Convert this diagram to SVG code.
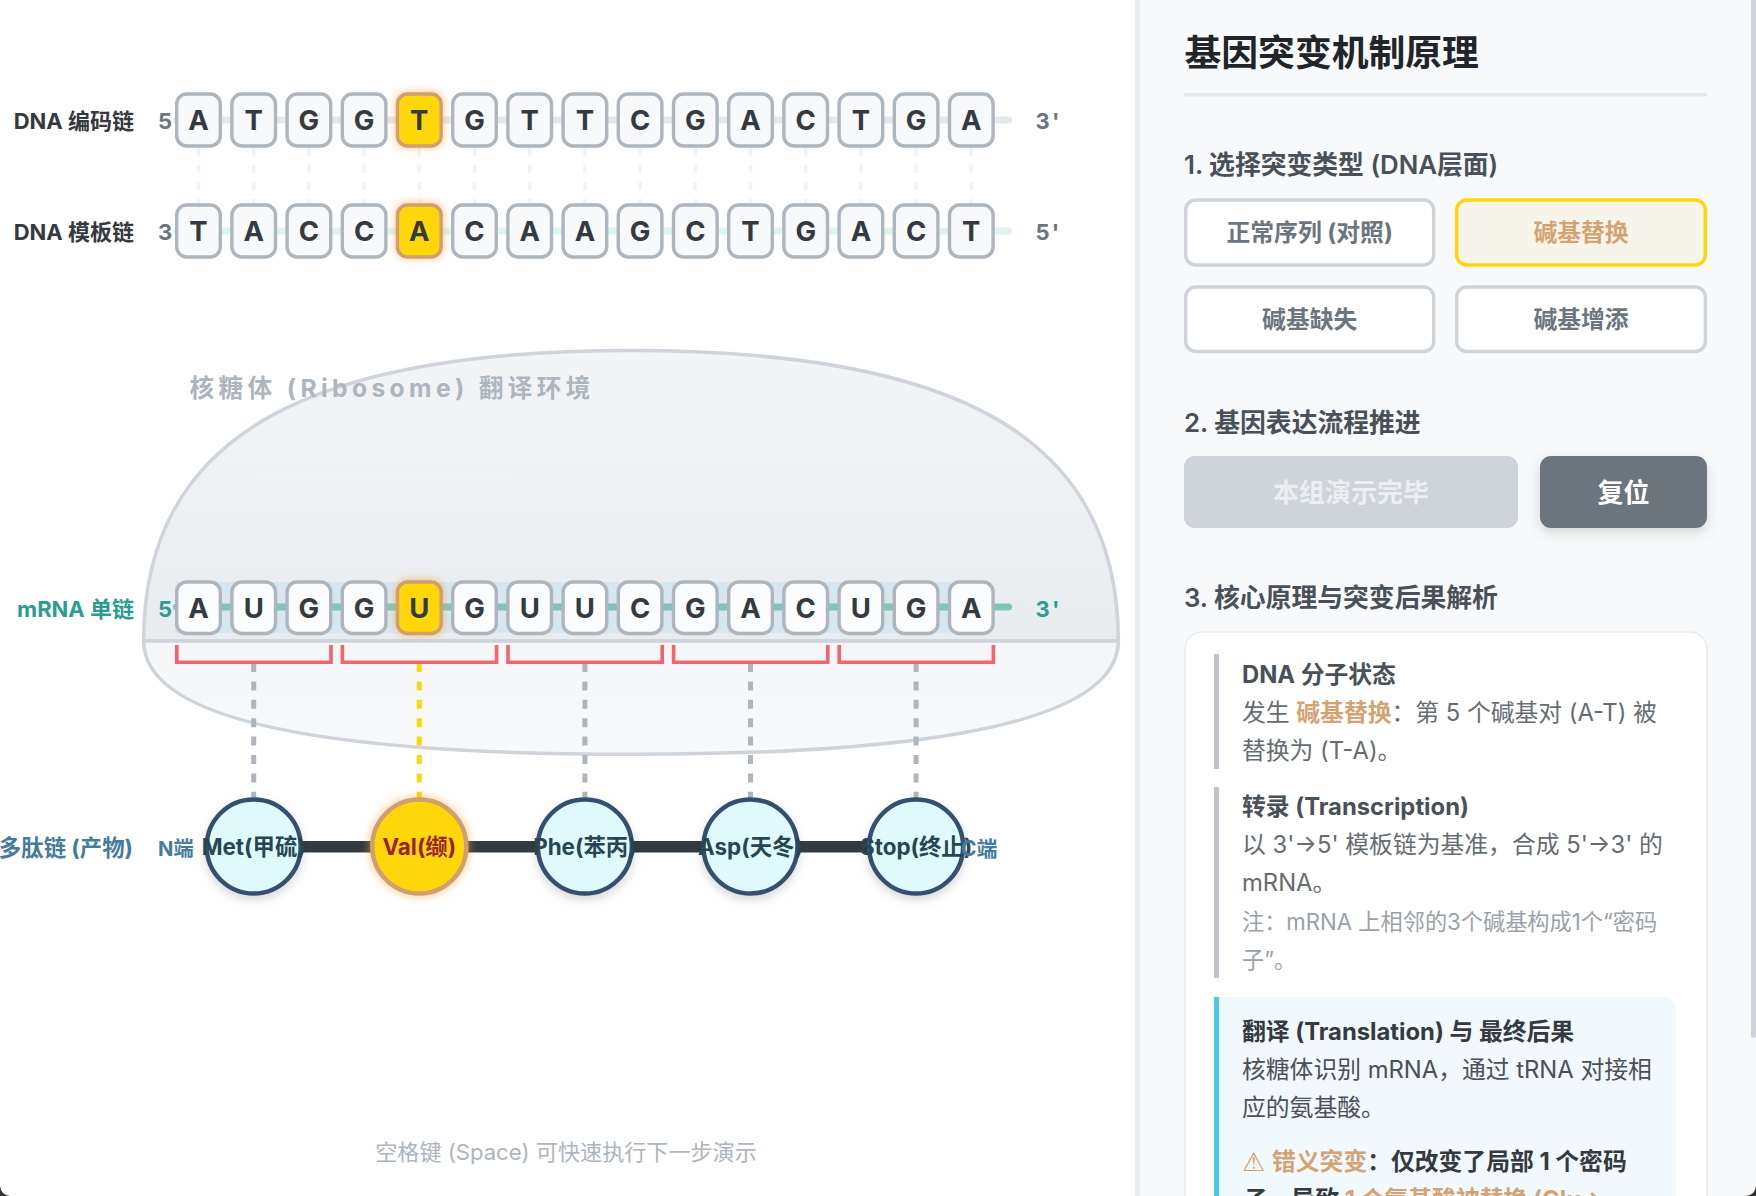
<svg xmlns="http://www.w3.org/2000/svg" width="1756" height="1196" viewBox="0 0 1756 1196">
<style>
text{font-family:Inter,"Noto Sans CJK SC",sans-serif}
.b{fill:#f8f9fa;stroke:#adb5bd;stroke-width:3.4}
.bw{fill:#fbfcfd;stroke:#adb5bd;stroke-width:3.4}
.h{fill:#ffd60a;stroke:#cf9f6e;stroke-width:3.4}
.l{font-size:27.5px;font-weight:700;fill:#343a40;text-anchor:middle}
.lab{font-size:22px;font-weight:700;text-anchor:end}
.end{font-size:22px;font-weight:700;letter-spacing:2.2px}
.pair{stroke:#f1f3f5;stroke-width:3.4;stroke-dasharray:8 9}
.br{fill:none;stroke:#ef6670;stroke-width:3.6}
.d{stroke:#adb5bd;stroke-width:5;stroke-dasharray:9 9.4}
.c{fill:#e0f9fd;stroke:#355070;stroke-width:4.5}
.ct{font-size:22.4px;font-weight:700;fill:#264653;text-anchor:middle}
.sec{font-size:25.8px;font-weight:600;fill:#495057}
.bt{fill:#fff;stroke:#ced4da;stroke-width:3.4}
.btt{font-size:23.8px;font-weight:700;fill:#6c757d;text-anchor:middle}
.t{font-size:23.8px;font-weight:700;fill:#495057}
.p{font-size:23.8px;fill:#666c72}
.n{font-size:22.2px;fill:#9aa1a8}
.q{font-size:23.8px;fill:#495057}
.o{fill:#d4a373;font-weight:700}
</style>
<defs>
<linearGradient id="gt" x1="0" y1="0" x2="0" y2="1"><stop offset="0" stop-color="#f3f4f6"/><stop offset="1" stop-color="#e9ecef"/></linearGradient>
<linearGradient id="gb" x1="0" y1="0" x2="0" y2="1"><stop offset="0" stop-color="#f5f6f8"/><stop offset="1" stop-color="#f8f9fa"/></linearGradient>
<filter id="glow" x="-50%" y="-50%" width="200%" height="200%"><feGaussianBlur stdDeviation="4.5"/></filter>
<filter id="sh" x="-30%" y="-30%" width="160%" height="170%"><feDropShadow dx="0" dy="4.5" stdDeviation="4.5" flood-color="#000" flood-opacity=".14"/></filter>
<filter id="sb" x="-20%" y="-30%" width="140%" height="180%"><feDropShadow dx="0" dy="4.5" stdDeviation="6" flood-color="#000" flood-opacity=".14"/></filter>
</defs>
<rect width="1135" height="1196" fill="#fefefe"/>
<g id="ribosome">
<path d="M143.700 641 C143.700 440 300 350.500 631 350.500 C962 350.500 1118.300 440 1118.300 641 Z" fill="url(#gt)" stroke="#ced4da" stroke-width="3.600"/>
<path d="M143.700 641 C143.700 715 300 754.300 631 754.300 C962 754.300 1118.300 715 1118.300 641 Z" fill="url(#gb)" stroke="#ced4da" stroke-width="3.600"/>
<text x="189.500" y="397" font-size="24.6" font-weight="700" fill="#adb5bd" letter-spacing="4.4">核糖体 (Ribosome) 翻译环境</text>
</g>
<g id="connectors">
<rect x="173" y="116.500" width="839" height="7" rx="3.500" fill="#e5e7ea"/>
<rect x="173" y="227.500" width="839" height="7" rx="3.500" fill="#e0f4ed"/>
<g class="pair">
<path d="M198.500 148V203M253.700 148V203M308.900 148V203M364.100 148V203M419.300 148V203M474.500 148V203M529.700 148V203M584.900 148V203M640.100 148V203M695.300 148V203M750.500 148V203M805.700 148V203M860.900 148V203M916.100 148V203M971.300 148V203"/>
</g>
<rect x="175" y="582" width="776" height="51" fill="#d8e7ef"/>
<rect x="173" y="603.500" width="839" height="7" rx="3.500" fill="#7fc4b5"/>
<path class="d" d="M253.700 663V800"/>
<path class="d" d="M419.300 663V800" style="stroke:#ffd60a"/>
<path class="d" d="M584.900 663V800"/>
<path class="d" d="M750.500 663V800"/>
<path class="d" d="M916.100 663V800"/>
<rect x="254" y="841" width="662" height="11.500" fill="#343a40"/>
<g id="codon-brackets">
<path class="br" d="M176.800 645V662.200H331V645"/>
<path class="br" d="M342.400 645V662.200H496.600V645"/>
<path class="br" d="M508 645V662.200H662.200V645"/>
<path class="br" d="M673.600 645V662.200H827.800V645"/>
<path class="br" d="M839.200 645V662.200H993.400V645"/>
</g>
</g>
<g id="row-labels">
<text class="lab" x="134" y="129" fill="#343a40">DNA 编码链</text>
<text class="lab" x="134" y="240" fill="#343a40">DNA 模板链</text>
<text class="lab" x="134" y="617" fill="#2a9d8f">mRNA 单链</text>
<text class="lab" x="133" y="856" fill="#457b9d" style="font-size:22.4px">多肽链 (产物)</text>
<text class="end" x="158" y="128.500" fill="#6c757d">5'</text>
<text class="end" x="1035.500" y="128.500" fill="#6c757d">3'</text>
<text class="end" x="158" y="240" fill="#6c757d">3'</text>
<text class="end" x="1035.500" y="240" fill="#6c757d">5'</text>
<text class="end" x="158" y="616.700" fill="#2a9d8f">5'</text>
<text class="end" x="1035.500" y="616.700" fill="#2a9d8f">3'</text>
<text x="158" y="856" font-size="20.200" font-weight="700" fill="#457b9d">N端</text>
</g>
<g id="dna-coding">
<rect x="396" y="92" width="47" height="55" rx="11" fill="#f4a340" opacity=".65" filter="url(#glow)"/>
<g id="c1"><rect class="b" x="176.700" y="94" width="43.600" height="52" rx="10"/><text class="l" x="198.500" y="130">A</text></g>
<g id="c2"><rect class="b" x="231.900" y="94" width="43.600" height="52" rx="10"/><text class="l" x="253.700" y="130">T</text></g>
<g id="c3"><rect class="b" x="287.100" y="94" width="43.600" height="52" rx="10"/><text class="l" x="308.900" y="130">G</text></g>
<g id="c4"><rect class="b" x="342.300" y="94" width="43.600" height="52" rx="10"/><text class="l" x="364.100" y="130">G</text></g>
<g id="c5"><rect class="h" x="397.500" y="94" width="43.600" height="52" rx="10"/><text class="l" x="419.300" y="130">T</text></g>
<g id="c6"><rect class="b" x="452.700" y="94" width="43.600" height="52" rx="10"/><text class="l" x="474.500" y="130">G</text></g>
<g id="c7"><rect class="b" x="507.900" y="94" width="43.600" height="52" rx="10"/><text class="l" x="529.700" y="130">T</text></g>
<g id="c8"><rect class="b" x="563.100" y="94" width="43.600" height="52" rx="10"/><text class="l" x="584.900" y="130">T</text></g>
<g id="c9"><rect class="b" x="618.300" y="94" width="43.600" height="52" rx="10"/><text class="l" x="640.100" y="130">C</text></g>
<g id="c10"><rect class="b" x="673.500" y="94" width="43.600" height="52" rx="10"/><text class="l" x="695.300" y="130">G</text></g>
<g id="c11"><rect class="b" x="728.700" y="94" width="43.600" height="52" rx="10"/><text class="l" x="750.500" y="130">A</text></g>
<g id="c12"><rect class="b" x="783.900" y="94" width="43.600" height="52" rx="10"/><text class="l" x="805.700" y="130">C</text></g>
<g id="c13"><rect class="b" x="839.100" y="94" width="43.600" height="52" rx="10"/><text class="l" x="860.900" y="130">T</text></g>
<g id="c14"><rect class="b" x="894.300" y="94" width="43.600" height="52" rx="10"/><text class="l" x="916.100" y="130">G</text></g>
<g id="c15"><rect class="b" x="949.500" y="94" width="43.600" height="52" rx="10"/><text class="l" x="971.300" y="130">A</text></g>
</g>
<g id="dna-template">
<rect x="396" y="203" width="47" height="55" rx="11" fill="#f4a340" opacity=".65" filter="url(#glow)"/>
<g id="t1"><rect class="b" x="176.700" y="205" width="43.600" height="52" rx="10"/><text class="l" x="198.500" y="241">T</text></g>
<g id="t2"><rect class="b" x="231.900" y="205" width="43.600" height="52" rx="10"/><text class="l" x="253.700" y="241">A</text></g>
<g id="t3"><rect class="b" x="287.100" y="205" width="43.600" height="52" rx="10"/><text class="l" x="308.900" y="241">C</text></g>
<g id="t4"><rect class="b" x="342.300" y="205" width="43.600" height="52" rx="10"/><text class="l" x="364.100" y="241">C</text></g>
<g id="t5"><rect class="h" x="397.500" y="205" width="43.600" height="52" rx="10"/><text class="l" x="419.300" y="241">A</text></g>
<g id="t6"><rect class="b" x="452.700" y="205" width="43.600" height="52" rx="10"/><text class="l" x="474.500" y="241">C</text></g>
<g id="t7"><rect class="b" x="507.900" y="205" width="43.600" height="52" rx="10"/><text class="l" x="529.700" y="241">A</text></g>
<g id="t8"><rect class="b" x="563.100" y="205" width="43.600" height="52" rx="10"/><text class="l" x="584.900" y="241">A</text></g>
<g id="t9"><rect class="b" x="618.300" y="205" width="43.600" height="52" rx="10"/><text class="l" x="640.100" y="241">G</text></g>
<g id="t10"><rect class="b" x="673.500" y="205" width="43.600" height="52" rx="10"/><text class="l" x="695.300" y="241">C</text></g>
<g id="t11"><rect class="b" x="728.700" y="205" width="43.600" height="52" rx="10"/><text class="l" x="750.500" y="241">T</text></g>
<g id="t12"><rect class="b" x="783.900" y="205" width="43.600" height="52" rx="10"/><text class="l" x="805.700" y="241">G</text></g>
<g id="t13"><rect class="b" x="839.100" y="205" width="43.600" height="52" rx="10"/><text class="l" x="860.900" y="241">A</text></g>
<g id="t14"><rect class="b" x="894.300" y="205" width="43.600" height="52" rx="10"/><text class="l" x="916.100" y="241">C</text></g>
<g id="t15"><rect class="b" x="949.500" y="205" width="43.600" height="52" rx="10"/><text class="l" x="971.300" y="241">T</text></g>
</g>
<g id="mrna">
<rect x="396" y="580" width="47" height="55" rx="11" fill="#f4a340" opacity=".65" filter="url(#glow)"/>
<g id="m1"><rect class="bw" x="176.700" y="582" width="43.600" height="51.500" rx="10"/><text class="l" x="198.500" y="617.500">A</text></g>
<g id="m2"><rect class="bw" x="231.900" y="582" width="43.600" height="51.500" rx="10"/><text class="l" x="253.700" y="617.500">U</text></g>
<g id="m3"><rect class="bw" x="287.100" y="582" width="43.600" height="51.500" rx="10"/><text class="l" x="308.900" y="617.500">G</text></g>
<g id="m4"><rect class="bw" x="342.300" y="582" width="43.600" height="51.500" rx="10"/><text class="l" x="364.100" y="617.500">G</text></g>
<g id="m5"><rect class="h" x="397.500" y="582" width="43.600" height="51.500" rx="10"/><text class="l" x="419.300" y="617.500">U</text></g>
<g id="m6"><rect class="bw" x="452.700" y="582" width="43.600" height="51.500" rx="10"/><text class="l" x="474.500" y="617.500">G</text></g>
<g id="m7"><rect class="bw" x="507.900" y="582" width="43.600" height="51.500" rx="10"/><text class="l" x="529.700" y="617.500">U</text></g>
<g id="m8"><rect class="bw" x="563.100" y="582" width="43.600" height="51.500" rx="10"/><text class="l" x="584.900" y="617.500">U</text></g>
<g id="m9"><rect class="bw" x="618.300" y="582" width="43.600" height="51.500" rx="10"/><text class="l" x="640.100" y="617.500">C</text></g>
<g id="m10"><rect class="bw" x="673.500" y="582" width="43.600" height="51.500" rx="10"/><text class="l" x="695.300" y="617.500">G</text></g>
<g id="m11"><rect class="bw" x="728.700" y="582" width="43.600" height="51.500" rx="10"/><text class="l" x="750.500" y="617.500">A</text></g>
<g id="m12"><rect class="bw" x="783.900" y="582" width="43.600" height="51.500" rx="10"/><text class="l" x="805.700" y="617.500">C</text></g>
<g id="m13"><rect class="bw" x="839.100" y="582" width="43.600" height="51.500" rx="10"/><text class="l" x="860.900" y="617.500">U</text></g>
<g id="m14"><rect class="bw" x="894.300" y="582" width="43.600" height="51.500" rx="10"/><text class="l" x="916.100" y="617.500">G</text></g>
<g id="m15"><rect class="bw" x="949.500" y="582" width="43.600" height="51.500" rx="10"/><text class="l" x="971.300" y="617.500">A</text></g>
</g>
<g id="polypeptide">
<g id="aa1"><circle class="c" cx="253.700" cy="846.500" r="47" filter="url(#sh)"/><text class="ct" x="253.700" y="855">Met(甲硫)</text></g>
<g id="aa2"><circle cx="419.300" cy="846.500" r="50" fill="#f4a340" opacity=".55" filter="url(#glow)"/><circle cx="419.300" cy="846.500" r="47" fill="#ffd60a" stroke="#cf9f6e" stroke-width="4.500"/><text class="ct" x="419.300" y="855" style="fill:#9b2226">Val(缬)</text></g>
<g id="aa3"><circle class="c" cx="584.900" cy="846.500" r="47" filter="url(#sh)"/><text class="ct" x="584.900" y="855">Phe(苯丙)</text></g>
<g id="aa4"><circle class="c" cx="750.500" cy="846.500" r="47" filter="url(#sh)"/><text class="ct" x="750.500" y="855">Asp(天冬)</text></g>
<g id="aa5"><circle class="c" cx="916.100" cy="846.500" r="47" filter="url(#sh)"/><text class="ct" x="916.100" y="855">Stop(终止)</text></g>
<text x="961" y="856" font-size="21" font-weight="700" fill="#457b9d">C端</text>
</g>
<text id="hint" x="566" y="1160" font-size="22.100" fill="#adb5bd" text-anchor="middle">空格键 (Space) 可快速执行下一步演示</text>
<g id="panel">
<rect x="1135" width="621" height="1196" fill="#f8f9fa"/>
<rect x="1135" width="5" height="1196" fill="#e9ecef"/>
<text x="1184.500" y="66" font-size="36.800" font-weight="700" fill="#212529">基因突变机制原理</text>
<rect x="1184" y="93" width="523" height="3.400" fill="#e4e6e9"/>
<text class="sec" x="1184" y="174">1. 选择突变类型 (DNA层面)</text>
<g id="btn-normal"><rect class="bt" x="1185.700" y="200" width="248" height="65" rx="10"/><text class="btt" x="1309.700" y="241">正常序列 (对照)</text></g>
<g id="btn-sub"><rect class="bt" x="1456.700" y="200" width="248.600" height="65" rx="10" style="fill:#f7f5ea;stroke:#ffd60a"/><text class="btt" x="1581" y="241" style="fill:#d4a373">碱基替换</text></g>
<g id="btn-del"><rect class="bt" x="1185.700" y="287" width="248" height="64.500" rx="10"/><text class="btt" x="1309.700" y="328">碱基缺失</text></g>
<g id="btn-ins"><rect class="bt" x="1456.700" y="287" width="248.600" height="64.500" rx="10"/><text class="btt" x="1581" y="328">碱基增添</text></g>
<text class="sec" x="1184" y="432">2. 基因表达流程推进</text>
<g id="btn-next"><rect x="1184" y="456" width="334" height="72" rx="11" fill="#ced4da"/><text x="1351" y="501.500" font-size="26" font-weight="700" fill="#eceef0" text-anchor="middle">本组演示完毕</text></g>
<g id="btn-reset"><rect x="1540" y="456" width="167" height="72" rx="11" fill="#6c757d" filter="url(#sb)"/><text x="1623.500" y="501.500" font-size="26" font-weight="700" fill="#fff" text-anchor="middle">复位</text></g>
<text class="sec" x="1184" y="607">3. 核心原理与突变后果解析</text>
<rect x="1185" y="632" width="522" height="600" rx="17" fill="#fff" stroke="#e9ecef" stroke-width="1.700"/>
<g id="step-dna">
<rect x="1214" y="654" width="5" height="115" fill="#bfc4ca"/>
<text class="t" x="1242" y="682.500">DNA 分子状态</text>
<text class="p" x="1242" y="720.500">发生 <tspan class="o">碱基替换</tspan>：第 5 个碱基对 (A-T) 被</text>
<text class="p" x="1242" y="758.500">替换为 (T-A)。</text>
</g>
<g id="step-transcription">
<rect x="1214" y="787" width="5" height="191" fill="#bfc4ca"/>
<text class="t" x="1242" y="815">转录 (Transcription)</text>
<text class="p" x="1242" y="853">以 3'→5' 模板链为基准，合成 5'→3' 的</text>
<text class="p" x="1242" y="891">mRNA。</text>
<text class="n" x="1242" y="930">注：mRNA 上相邻的3个碱基构成1个“密码</text>
<text class="n" x="1242" y="968">子”。</text>
</g>
<g id="step-translation">
<path d="M1676 1196V1008a11 11 0 0 0 -11 -11H1214V1196Z" fill="#f1f9fd"/>
<rect x="1214" y="997" width="5" height="199" fill="#48cae4"/>
<text class="t" x="1242" y="1040" style="fill:#343a40">翻译 (Translation) 与 最终后果</text>
<text class="q" x="1242" y="1078">核糖体识别 mRNA，通过 tRNA 对接相</text>
<text class="q" x="1242" y="1116">应的氨基酸。</text>
<text x="1242" y="1171" font-size="26" font-family="'DejaVu Sans',sans-serif" fill="#d4a373" style="font-family:'DejaVu Sans',sans-serif">⚠</text>
<text x="1272" y="1170" font-size="23.800" font-weight="700" fill="#343a40"><tspan fill="#d4a373">错义突变</tspan>：仅改变了局部 1 个密码</text>
<text x="1244" y="1208" font-size="23.800" font-weight="700" fill="#343a40">子，导致 <tspan fill="#d4a373">1 个氨基酸被替换 (Glu→</tspan></text>
</g>
</g>
<rect id="scrollbar" x="1751" y="-10" width="5" height="1048" rx="3" fill="#ced4da"/>
<g id="corners" fill="#333">
<path d="M0 1186Q1 1195 10 1196H0Z"/>
<path d="M1756 1186Q1755 1195 1746 1196H1756Z"/>
</g>
</svg>
